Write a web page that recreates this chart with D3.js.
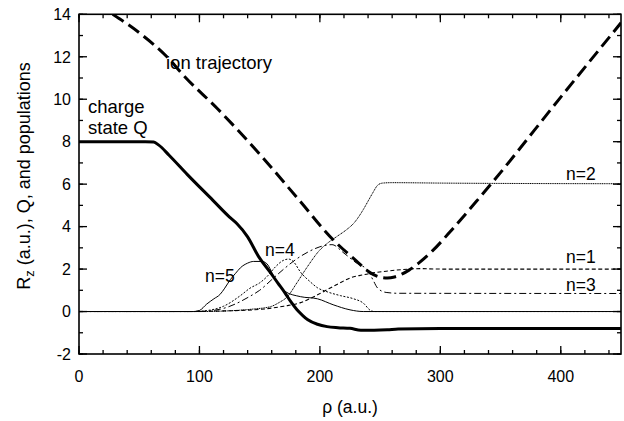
<!DOCTYPE html>
<html>
<head>
<meta charset="utf-8">
<script src="https://cdn.jsdelivr.net/npm/d3@7"></script>
<style>
  body { margin: 0; background: #fff; }
  svg text { font-family: "Liberation Sans", Arial, Helvetica, sans-serif; fill: #000; }
</style>
</head>
<body>
<div id="canvas"></div>
<script>
// data: [rho, value]
var ionTrajectory = [[28,14],[50.7,13.1],[73,12.0],[88,11.05],[115,9.55],[150.5,7.38],[182,5.3],[211,3.38],[230,2.4],[242,1.82],[250,1.62],[256,1.58],[262,1.63],[268,1.76],[274,1.95],[282,2.28],[293,2.83],[310,3.88],[331,5.26],[342,6.0],[400,10.1],[450,13.6]];
var chargeQ = [[0,8],[55,8],[62,7.98],[66,7.85],[75,7.35],[90,6.45],[111,5.25],[125,4.45],[131,4.15],[140,3.52],[149,2.6],[159,1.83],[165,1.35],[171,0.88],[176,0.45],[181,0.08],[186,-0.2],[190,-0.39],[198,-0.6],[206,-0.71],[215,-0.76],[225,-0.79],[234,-0.88],[245,-0.88],[256,-0.86],[265,-0.82],[300,-0.8],[450,-0.8]];
var pop1 = [[0,0],[80,0],[120,0.03],[150,0.1],[170,0.25],[184,0.42],[195,0.7],[206,1.03],[215,1.3],[225,1.58],[235,1.72],[244,1.82],[255,1.9],[267,1.97],[283,2.02],[300,2.0],[450,2.0]];
var pop2 = [[0,0],[100,0],[130,0.05],[145,0.12],[159,0.23],[166,0.42],[173,0.7],[181,1.36],[189.5,2.1],[200,2.9],[207,3.25],[214.5,3.55],[222,3.85],[228,4.15],[236,4.8],[240,5.2],[244,5.6],[248,5.95],[252,6.05],[260,6.07],[300,6.05],[450,6.02]];
var pop3 = [[0,0],[100,0],[120,0.15],[142,0.72],[150,1.0],[160,1.5],[170,2.0],[180,2.45],[190,2.8],[200,3.05],[210,3.15],[220,2.75],[230,2.3],[240,1.92],[244,1.5],[248,1.1],[255,0.9],[265,0.86],[450,0.85]];
var pop4 = [[0,0],[95,0],[110,0.08],[120,0.25],[134,0.75],[142,1.1],[150,1.35],[156,1.64],[163,2.1],[170,2.42],[174,2.47],[178,2.35],[184,1.85],[192,1.4],[198,1.12],[206,0.93],[217,0.75],[228,0.6],[236,0.4],[242,0.05],[245,0],[450,0]];
var pop5 = [[0,0],[95,0],[100,0.05],[106,0.35],[112,0.6],[117,0.8],[121,1.1],[125.6,1.5],[130,1.8],[134,2.06],[140,2.28],[145,2.36],[152,2.36],[156,2.25],[163,1.5],[171,0.95],[184,0.7],[198,0.6],[211,0.32],[225,0.08],[236,0],[450,0]];

var xTicks = [0,100,200,300,400];
var yTicks = [-2,0,2,4,6,8,10,12,14];

var m = {t:14.3, r:3, b:67, l:79};
var outerWidth = 624, outerHeight = 421;
var w = outerWidth - m.l - m.r,
    h = outerHeight - m.t - m.b;

var svg = d3.select('#canvas')
    .append('svg')
    .attr('width', outerWidth)
    .attr('height', outerHeight);

var plot = svg.append('g')
    .attr('transform', 'translate(' + m.l + ',' + m.t + ')');

var x = d3.scaleLinear().domain([0,450]).range([0,w]);
var y = d3.scaleLinear().domain([-2,14]).range([h,0]);

svg.append('clipPath').attr('id','clip')
    .append('rect').attr('width', w).attr('height', h);

// ticks on all four sides, pointing inward
var minorX = d3.range(0, 451, 20), minorY = d3.range(-2, 14.1, 1);
function tickLines(vals, isX, len, side){
    plot.selectAll(null).data(vals).enter().append('line')
        .attr('x1', function(d){ return isX ? x(d) : (side ? w : 0); })
        .attr('x2', function(d){ return isX ? x(d) : (side ? w - len : len); })
        .attr('y1', function(d){ return isX ? (side ? 0 : h) : y(d); })
        .attr('y2', function(d){ return isX ? (side ? len : h - len) : y(d); })
        .style('stroke','#000').style('stroke-width',1.3);
}
tickLines(minorX, true, 4, 0); tickLines(minorX, true, 4, 1);
tickLines(xTicks, true, 8, 0); tickLines(xTicks, true, 8, 1);
tickLines(minorY, false, 4, 0); tickLines(minorY, false, 4, 1);
tickLines(yTicks, false, 8, 0); tickLines(yTicks, false, 8, 1);

plot.append('rect')
    .attr('width', w).attr('height', h)
    .style('fill','none').style('stroke','#000').style('stroke-width',1.6);

plot.selectAll('.xl').data(xTicks).enter().append('text')
    .attr('x', function(d){ return x(d); })
    .attr('y', h + 28)
    .attr('text-anchor','middle')
    .style('font-size','16px')
    .text(function(d){ return d; });

plot.selectAll('.yl').data(yTicks).enter().append('text')
    .attr('x', -8)
    .attr('y', function(d){ return y(d); })
    .attr('dy','0.36em')
    .attr('text-anchor','end')
    .style('font-size','16px')
    .text(function(d){ return d; });

// curves
var line = d3.line()
    .x(function(d){ return x(d[0]); })
    .y(function(d){ return y(d[1]); })
    .curve(d3.curveMonotoneX);

var series = [
    {data: pop5, width: 1, dash: null},
    {data: pop4, width: 1, dash: '2,1.6'},
    {data: pop3, width: 1, dash: '7,3,2,3'},
    {data: pop2, width: 1, dash: '1.2,0.6'},
    {data: pop1, width: 1.1, dash: '4,2.5'},
    {data: chargeQ, width: 3, dash: null},
    {data: ionTrajectory, width: 3, dash: '13,6'}
];

var curves = plot.append('g').attr('clip-path','url(#clip)');
curves.selectAll('path').data(series).enter().append('path')
    .attr('d', function(d){ return line(d.data); })
    .style('fill','none')
    .style('stroke','#000')
    .style('stroke-width', function(d){ return d.width; })
    .style('stroke-dasharray', function(d){ return d.dash; });

// labels inside the plot
var labels = [
    {t:'ion trajectory', x:166, y:69, s:18.5},
    {t:'charge', x:88, y:113, s:18.5},
    {t:'state Q', x:88, y:134, s:18.5},
    {t:'n=5', x:205, y:282, s:17.5},
    {t:'n=4', x:265, y:256, s:17.5},
    {t:'n=2', x:566, y:180, s:17.5},
    {t:'n=1', x:566, y:263, s:17.5},
    {t:'n=3', x:566, y:291, s:17.5}
];
svg.selectAll('.lab').data(labels).enter().append('text')
    .attr('x', function(d){ return d.x; })
    .attr('y', function(d){ return d.y; })
    .style('font-size', function(d){ return d.s + 'px'; })
    .text(function(d){ return d.t; });

// axis titles
svg.append('text')
    .attr('x', m.l + w/2)
    .attr('y', 413)
    .attr('text-anchor','middle')
    .style('font-size','17.5px')
    .text('\u03c1 (a.u.)');

var yt = svg.append('text')
    .attr('transform','translate(30,176) rotate(-90)')
    .attr('text-anchor','middle')
    .style('font-size','18px');
yt.append('tspan').text('R');
yt.append('tspan').attr('dy','4').style('font-size','13px').text('z');
yt.append('tspan').attr('dy','-4').text(' (a.u.), Q, and populations');
</script>
</body>
</html>
